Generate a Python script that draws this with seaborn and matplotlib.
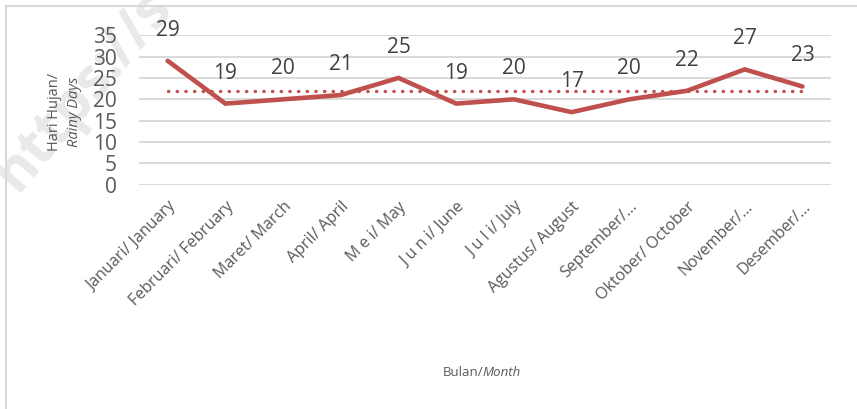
import numpy as np
import pandas as pd
import matplotlib
matplotlib.use("Agg")
import matplotlib.pyplot as plt
import seaborn as sns
from matplotlib.lines import Line2D

# data
bulan = ["Januari/ January", "Februari/ February", "Maret/ March", "April/ April",
         "M e i/ May", "J u n i/ June", "J u l i/ July", "Agustus/ August",
         "September/...", "Oktober/ October", "November/...", "Desember/..."]
hari_hujan = [29, 19, 20, 21, 25, 19, 20, 17, 20, 22, 27, 23]
y_ticks = [0, 5, 10, 15, 20, 25, 30, 35]

df = pd.DataFrame({"bulan": bulan, "hari": hari_hujan})
rata2 = df["hari"].mean()

sns.set_theme(style="white")
plt.rcParams["font.family"] = ["Open Sans", "DejaVu Sans"]

red = "#C0504D"
grey_txt = "#595959"

fig = plt.figure(figsize=(8.57, 4.09), dpi=100)

# watermark (behind everything)
fig.text(-0.02, 0.54, "https://s", rotation=50, fontsize=41, fontweight="bold",
         color="#E9E9E9", ha="left", va="baseline", zorder=-5)

ax = fig.add_axes([0.162, 0.548, 0.808, 0.366])
ax.set_zorder(1)

# frame around chart (only left and top visible)
fig.add_artist(Line2D([0.007, 0.007], [0.0, 0.985], color="#D9D9D9", lw=1.5))
fig.add_artist(Line2D([0.007, 1.0], [0.985, 0.985], color="#D9D9D9", lw=1.5))

ax.set_facecolor("none")
for yv in y_ticks:
    ax.axhline(yv, color="#D9D9D9", lw=1.4, zorder=0)

x = np.arange(len(bulan))
sns.lineplot(x=x, y=df["hari"], ax=ax, color=red, lw=3.3, zorder=3,
             solid_joinstyle="miter")
ax.plot(x, [rata2] * len(x), color=red, lw=2.4, linestyle=(0, (0.1, 2.5)),
        dash_capstyle="round", zorder=2)

for xi, v in zip(x, hari_hujan):
    ax.annotate(str(v), (xi, v), xytext=(0, 22), textcoords="offset points",
                ha="center", va="center", fontsize=15, color="#404040")

ax.set_xlim(-0.5, len(bulan) - 0.5)
ax.set_ylim(0, 35)
ax.set_yticks(y_ticks)
ax.set_yticklabels([str(t) for t in y_ticks], fontsize=15, color=grey_txt)
ax.set_xticks(x)
ax.set_xticklabels(bulan, rotation=45, ha="right", rotation_mode="anchor",
                   fontsize=11.5, color=grey_txt)
ax.tick_params(axis="both", length=0)
ax.tick_params(axis="y", pad=16)
ax.tick_params(axis="x", pad=10)
sns.despine(ax=ax, left=True, bottom=True)
ax.set_xlabel("")
ax.set_ylabel("")

# axis titles with italic english parts
fig.text(0.064, 0.726, "Hari Hujan/", rotation=90, ha="center", va="center",
         fontsize=10.5, color=grey_txt)
fig.text(0.087, 0.726, "Rainy Days", rotation=90, ha="center", va="center",
         fontsize=10.5, color=grey_txt, style="italic")
fig.text(0.5645, 0.09, "Bulan/", ha="right", va="center", fontsize=9.5, color=grey_txt)
fig.text(0.5635, 0.09, "Month", ha="left", va="center", fontsize=9.5, color=grey_txt,
         style="italic")

fig.savefig("out.png", dpi=100)
